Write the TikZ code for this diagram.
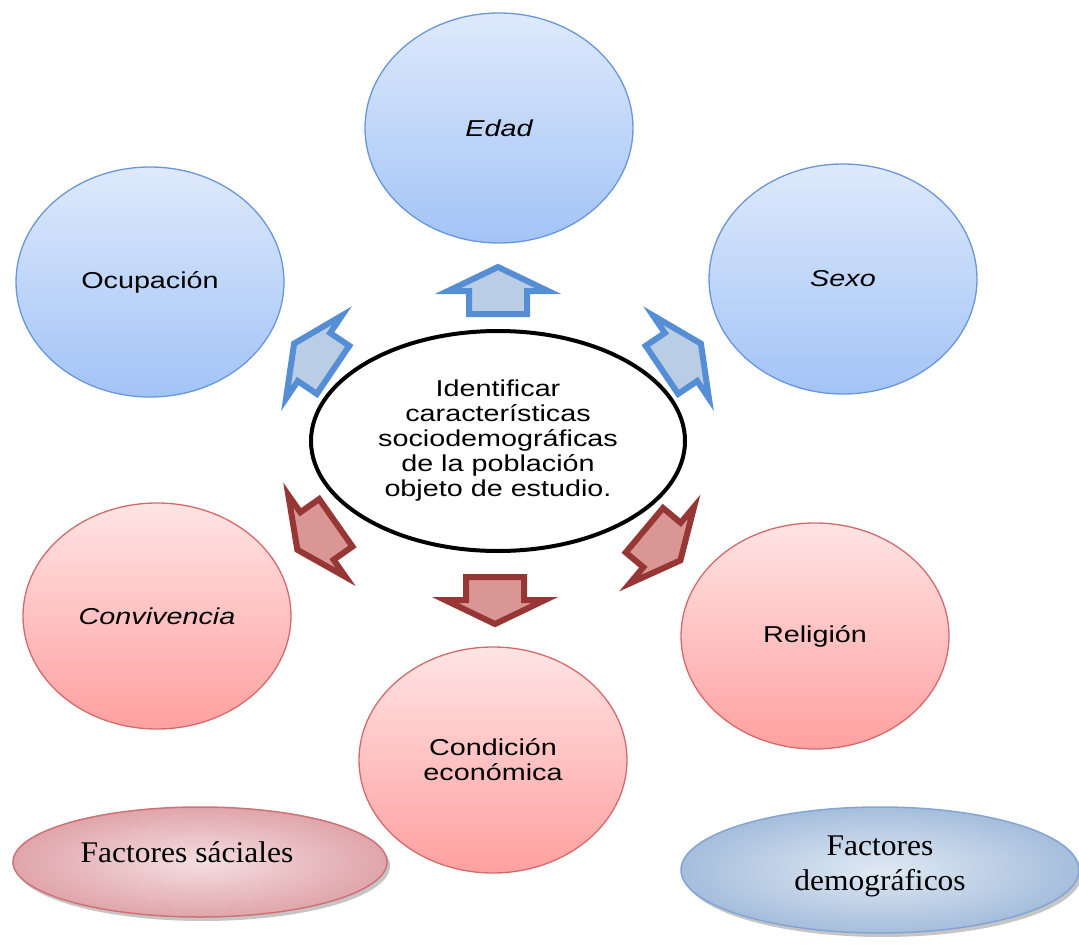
\documentclass[tikz,border=0pt]{standalone}
\usepackage{fontspec}
\usetikzlibrary{shapes.geometric,shadows}
\newfontfamily\arialx{Liberation Sans}[FakeStretch=1.25]
\newfontfamily\timesx{Liberation Serif}[FakeStretch=1.05]
\definecolor{bluetop}{RGB}{222,233,252}
\definecolor{bluebot}{RGB}{162,196,246}
\definecolor{blueedge}{RGB}{105,150,218}
\definecolor{redtop}{RGB}{255,228,228}
\definecolor{redbot}{RGB}{255,160,160}
\definecolor{rededge}{RGB}{212,105,105}
\definecolor{barrowfill}{RGB}{185,205,228}
\definecolor{barrowedge}{RGB}{85,142,213}
\definecolor{rarrowfill}{RGB}{217,150,148}
\definecolor{rarrowedge}{RGB}{150,55,53}
\definecolor{legredin}{RGB}{244,222,224}
\definecolor{legredout}{RGB}{224,165,170}
\definecolor{legrededge}{RGB}{205,115,120}
\definecolor{legbluein}{RGB}{224,233,243}
\definecolor{legblueout}{RGB}{165,190,220}
\definecolor{legblueedge}{RGB}{130,165,212}
\tikzset{
  txt/.style={font=\arialx\fontsize{23}{25}\selectfont, align=center},
  bluecirc/.style={ellipse, draw=blueedge, line width=1.3pt, top color=bluetop, bottom color=bluebot,
    minimum width=268pt, minimum height=230pt, txt},
  redcirc/.style={ellipse, draw=rededge, line width=1.3pt, top color=redtop, bottom color=redbot,
    minimum width=268pt, minimum height=226pt, txt},
  centre/.style={ellipse, draw=black, line width=4pt, fill=white,
    minimum width=374pt, minimum height=220pt, txt},
  legend/.style={ellipse, line width=1.5pt, font=\timesx\fontsize{30}{35}\selectfont, align=center,
    drop shadow={shadow xshift=3pt, shadow yshift=-4pt, fill=black!45}},
  bluearrow/.style={draw=barrowedge, fill=barrowfill, line width=6pt, line join=miter},
  redarrow/.style={draw=rarrowedge, fill=rarrowfill, line width=6pt, line join=miter},
  pics/fatarrow/.style={code={
    \draw[pic actions] (0,24) -- (50,0) -- (29,0) -- (29,-23) -- (-29,-23) -- (-29,0) -- (-50,0) -- cycle;}}
}
\begin{document}
\begin{tikzpicture}[x=1pt,y=1pt]
\useasboundingbox (0,0) rectangle (1079,-947);
% blue circles
\node[bluecirc] (edad) at (499,-128) {\itshape Edad};
\node[bluecirc] (ocup) at (150,-282) {Ocupación};
\node[bluecirc] (sexo) at (843,-279) {\itshape Sexo};
% red circles
\node[redcirc] (conv) at (157,-616) {\itshape Convivencia};
\node[redcirc] (reli) at (815,-636) {Religión};
\node[redcirc] (cond) at (493,-760) {Condición\\económica};
% centre
\node[centre] (c) at (498,-441) {Identificar\\características\\sociodemográficas\\de la población\\objeto de estudio.};
% arrows
\pic[bluearrow, rotate=0] (a1) at (498,-291) {fatarrow};
\pic[bluearrow, rotate=56] (a2) at (314,-357) {fatarrow};
\pic[bluearrow, rotate=-56] (a3) at (681,-357) {fatarrow};
\pic[redarrow, rotate=125] (a4) at (317,-536) {fatarrow};
\pic[redarrow, rotate=-130] (a5) at (662,-545) {fatarrow};
\pic[redarrow, rotate=180] (a6) at (495,-600) {fatarrow};
% legends
\node[legend, draw=legrededge, inner color=legredin, outer color=legredout,
  minimum width=374pt, minimum height=110pt] (fs) at (200,-862) {};
\node at (187,-852) [font=\timesx\fontsize{30}{35}\selectfont] (fst) {Factores sáciales};
\node[legend, draw=legblueedge, inner color=legbluein, outer color=legblueout,
  minimum width=398pt, minimum height=126pt] (fd) at (880,-870) {};
\node at (880,-866) [font=\timesx\fontsize{30}{35}\selectfont, align=center] (fdt) {Factores\\demográficos};
\end{tikzpicture}
\end{document}
